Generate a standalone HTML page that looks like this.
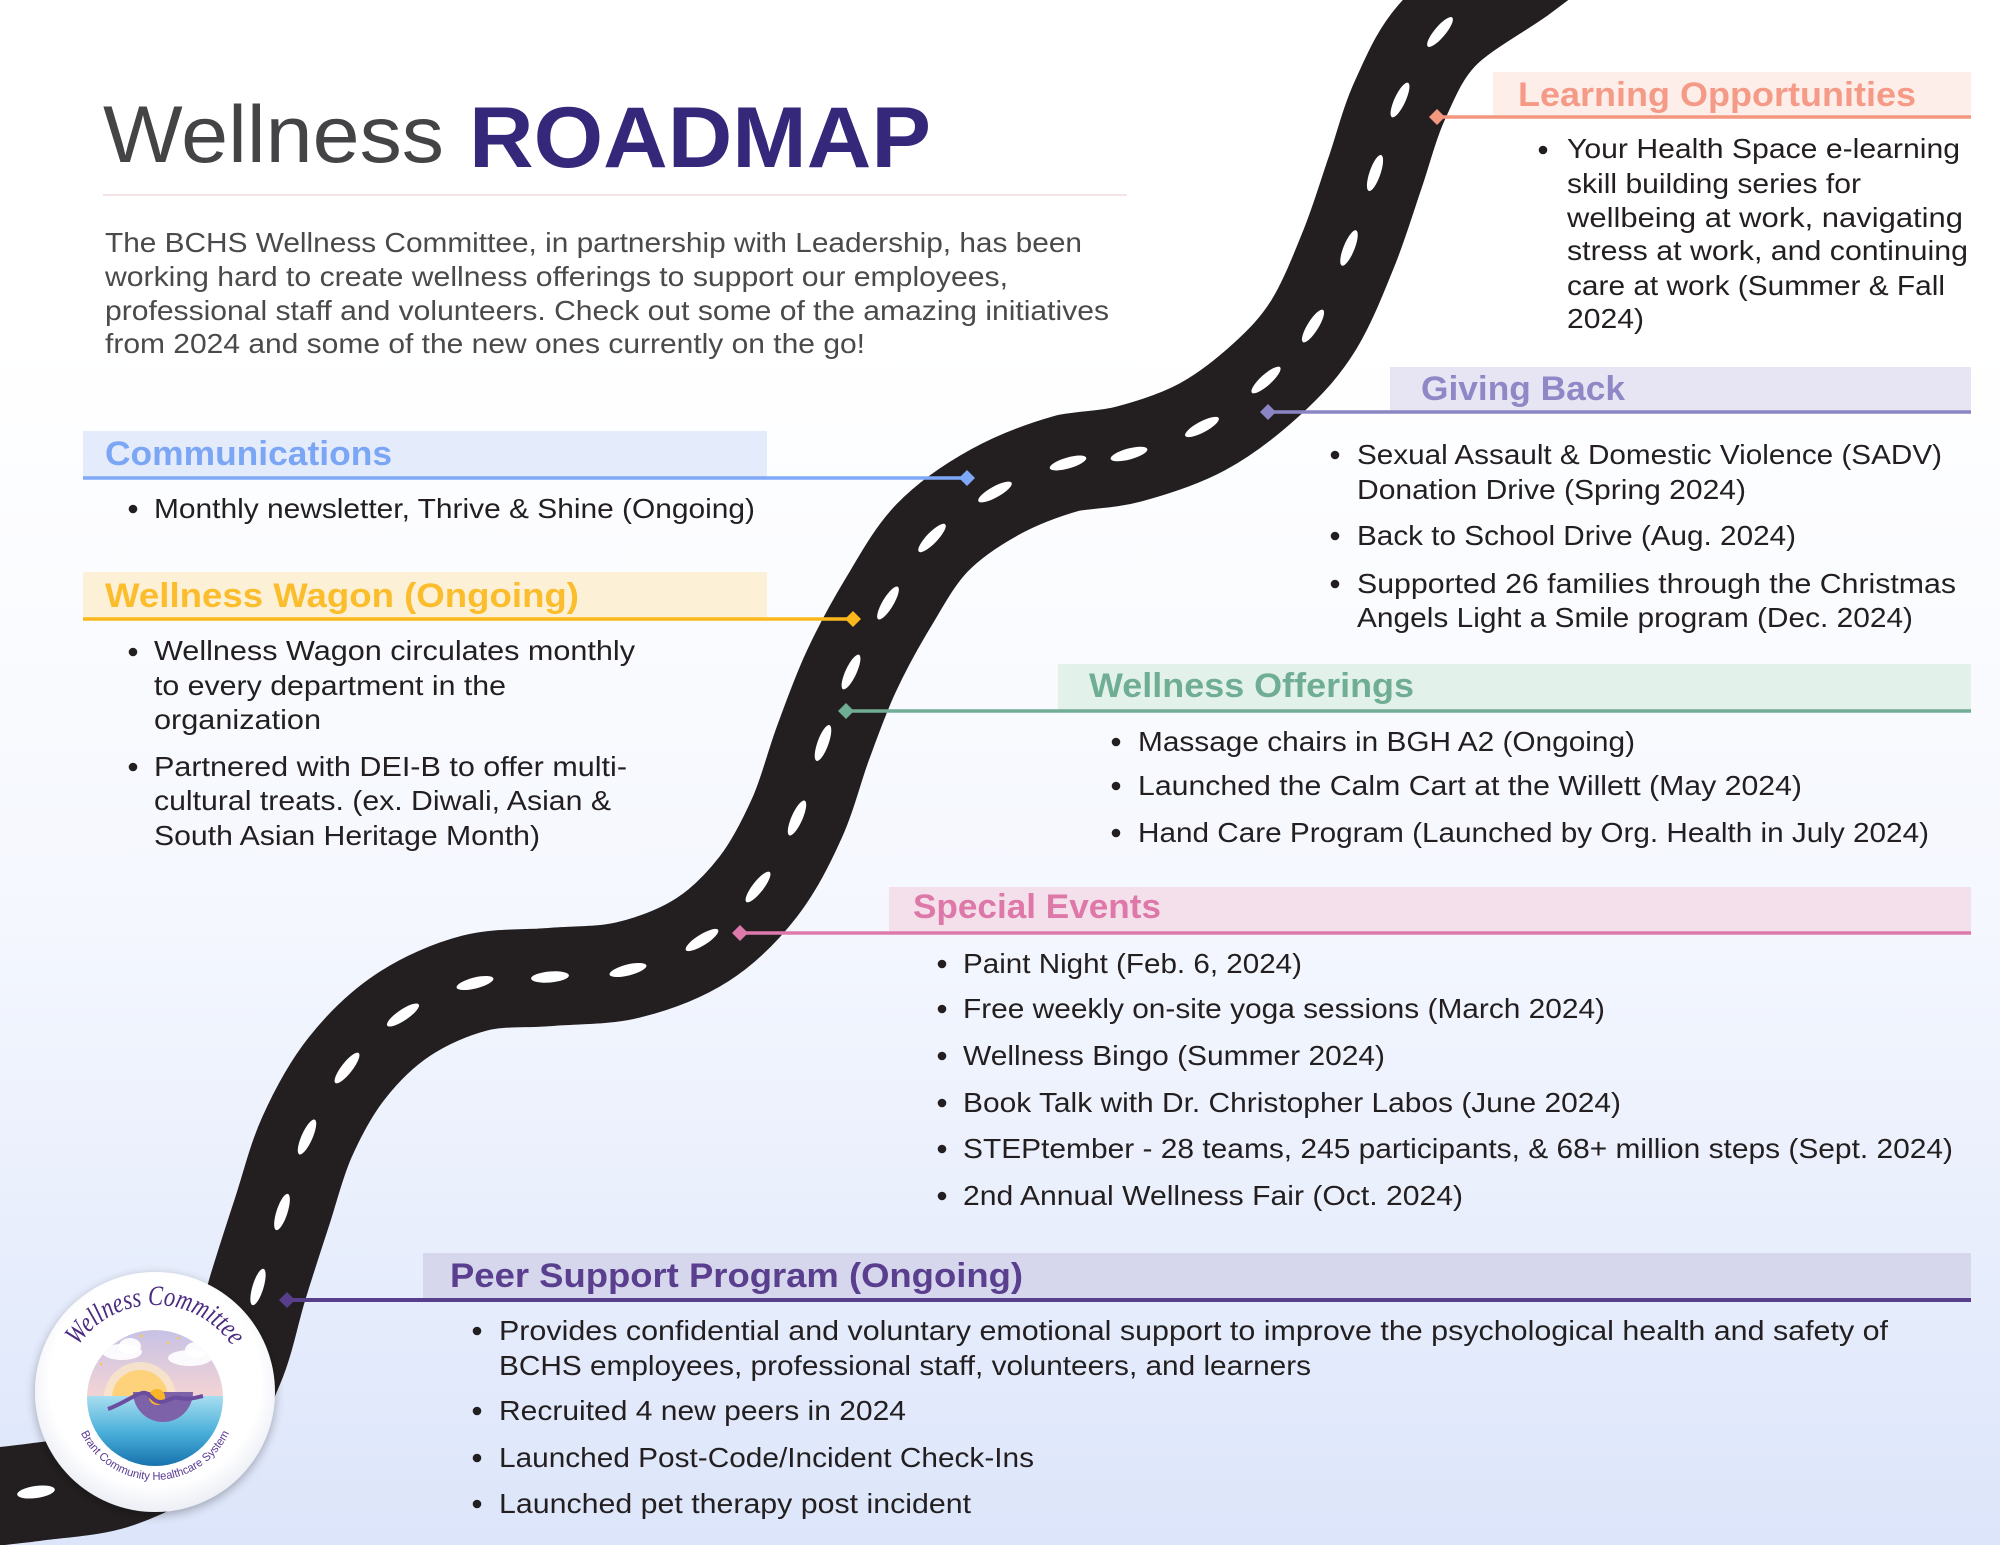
<!DOCTYPE html>
<html>
<head>
<meta charset="utf-8">
<style>
html,body{margin:0;padding:0;background:#fff;}
body{width:2000px;height:1545px;overflow:hidden;}
svg{display:block;}
.b{font-family:"Liberation Sans",sans-serif;font-size:28px;fill:#231f20;}
.h{font-family:"Liberation Sans",sans-serif;font-size:34px;font-weight:bold;}
.p{font-family:"Liberation Sans",sans-serif;font-size:27.5px;fill:#4a4a4c;}
</style>
</head>
<body>
<svg width="2000" height="1545" viewBox="0 0 2000 1545" xmlns="http://www.w3.org/2000/svg">
<defs>
  <linearGradient id="bg" x1="0" y1="0" x2="0" y2="1">
    <stop offset="0" stop-color="#ffffff"/>
    <stop offset="0.22" stop-color="#ffffff"/>
    <stop offset="0.6" stop-color="#f4f7fe"/>
    <stop offset="1" stop-color="#dce5fa"/>
  </linearGradient>
  <linearGradient id="sky" x1="0" y1="0" x2="0" y2="1">
    <stop offset="0" stop-color="#c6c1e6"/>
    <stop offset="1" stop-color="#f4d4d4"/>
  </linearGradient>
  <linearGradient id="sea" x1="0" y1="0" x2="0" y2="1">
    <stop offset="0" stop-color="#a8def0"/>
    <stop offset="0.5" stop-color="#4bb0da"/>
    <stop offset="1" stop-color="#146fab"/>
  </linearGradient>
  <radialGradient id="btn" cx="0.5" cy="0.45" r="0.55">
    <stop offset="0.8" stop-color="#ffffff"/>
    <stop offset="1" stop-color="#eceef5"/>
  </radialGradient>
  <clipPath id="oval"><circle cx="155" cy="1398" r="68"/></clipPath>
  <filter id="sh" x="-20%" y="-20%" width="140%" height="140%">
    <feGaussianBlur in="SourceAlpha" stdDeviation="5"/>
    <feOffset dx="0" dy="3"/>
    <feComponentTransfer><feFuncA type="linear" slope="0.3"/></feComponentTransfer>
    <feMerge><feMergeNode/><feMergeNode in="SourceGraphic"/></feMerge>
  </filter>
  <path id="arcT" d="M 62 1398 A 93 93 0 0 1 248 1398"/>
  <path id="arcB" d="M 73 1398 A 82 82 0 0 0 237 1398"/>
</defs>

<rect x="0" y="0" width="2000" height="1545" fill="url(#bg)"/>

<!-- Title -->
<text x="103" y="162" font-family="Liberation Sans, sans-serif" font-size="81" fill="#444446" textLength="341" lengthAdjust="spacingAndGlyphs">Wellness</text>
<text x="469" y="167" font-family="Liberation Sans, sans-serif" font-size="86" font-weight="bold" fill="#35287b" textLength="462" lengthAdjust="spacingAndGlyphs">ROADMAP</text>
<line x1="103" y1="195" x2="1127" y2="195" stroke="#f6e3e3" stroke-width="2"/>

<!-- Paragraph -->
<text class="p" x="105" y="252" textLength="977" lengthAdjust="spacingAndGlyphs">The BCHS Wellness Committee, in partnership with Leadership, has been</text>
<text class="p" x="105" y="286" textLength="903" lengthAdjust="spacingAndGlyphs">working hard to create wellness offerings to support our employees,</text>
<text class="p" x="105" y="320" textLength="1004" lengthAdjust="spacingAndGlyphs">professional staff and volunteers. Check out some of the amazing initiatives</text>
<text class="p" x="105" y="353" textLength="760" lengthAdjust="spacingAndGlyphs">from 2024 and some of the new ones currently on the go!</text>

<!-- Bands -->
<rect x="83" y="431" width="684" height="46" fill="#e4ebfb"/>
<rect x="83" y="572" width="684" height="47" fill="#fcf0d7"/>
<rect x="1493" y="72" width="478" height="45" fill="#fdeee9"/>
<rect x="1390" y="367" width="581" height="45" fill="#e7e5f4"/>
<rect x="1058" y="664" width="913" height="47" fill="#e3f1eb"/>
<rect x="889" y="887" width="1082" height="46" fill="#f4e0eb"/>
<rect x="423" y="1253" width="1548" height="47" fill="#d6d6ed"/>

<!-- Road -->
<path fill="none" stroke="#231f20" stroke-width="98" d="M1560,-55 L1520,-25 C1493,-6 1460,11.2 1440,32
C1420,52.8 1410.8,76.5 1400,100
C1389.2,123.5 1383.5,148.3 1375,173
C1366.5,197.7 1359.3,222.5 1349,248
C1338.7,273.5 1326.8,304 1313,326
C1299.2,348 1284.5,363.2 1266,380
C1247.5,396.8 1224.8,414.7 1202,427
C1179.2,439.3 1151.3,448 1129,454
C1106.7,460 1090,459 1068,463
C1045.7,469.3 1017.7,479.5 995,492
C972.3,504.5 949.8,519.5 932,538
C914.2,556.5 901.5,580.7 888,603
C874.5,625.3 861.8,648.7 851,672
C840.2,695.3 832,718.7 823,743
C814,767.3 807.8,794 797,818
C786.2,842 773.8,866.7 758,887
C742.2,907.3 723.7,926.2 702,940
C680.3,953.8 653.3,963.8 628,970
C602.7,976.2 575.5,974.8 550,977
C524.5,979.2 499.5,976.7 475,983
C450.5,989.3 424.3,1000.8 403,1015
C381.7,1029.2 363,1047.7 347,1068
C331,1088.3 317.8,1113 307,1137
C296.2,1161 290.2,1187 282,1212
C273.8,1237 265.8,1261.5 258,1287
C250.2,1312.5 245.5,1340.3 235,1365
C224.5,1389.7 214.2,1416.2 195,1435
C175.8,1453.8 146.5,1468.5 120,1478
C93.5,1487.5 62.7,1488.3 36,1492
C9.3,1495.7 -20,1498 -60,1503"/>

<!-- Road dashes -->
<g fill="#ffffff">
<ellipse cx="1440" cy="32" rx="19" ry="5.5" transform="rotate(130 1440 32)"/>
<ellipse cx="1400" cy="100" rx="19" ry="5.5" transform="rotate(115 1400 100)"/>
<ellipse cx="1375" cy="173" rx="19" ry="5.5" transform="rotate(109 1375 173)"/>
<ellipse cx="1349" cy="248" rx="19" ry="5.5" transform="rotate(112 1349 248)"/>
<ellipse cx="1313" cy="326" rx="19" ry="5.5" transform="rotate(122 1313 326)"/>
<ellipse cx="1266" cy="380" rx="19" ry="5.5" transform="rotate(138 1266 380)"/>
<ellipse cx="1202" cy="427" rx="19" ry="5.5" transform="rotate(152 1202 427)"/>
<ellipse cx="1129" cy="454" rx="19" ry="5.5" transform="rotate(165 1129 454)"/>
<ellipse cx="1068" cy="463" rx="19" ry="5.5" transform="rotate(164 1068 463)"/>
<ellipse cx="995" cy="492" rx="19" ry="5.5" transform="rotate(151 995 492)"/>
<ellipse cx="932" cy="538" rx="19" ry="5.5" transform="rotate(134 932 538)"/>
<ellipse cx="888" cy="603" rx="19" ry="5.5" transform="rotate(121 888 603)"/>
<ellipse cx="851" cy="672" rx="19" ry="5.5" transform="rotate(115 851 672)"/>
<ellipse cx="823" cy="743" rx="19" ry="5.5" transform="rotate(110 823 743)"/>
<ellipse cx="797" cy="818" rx="19" ry="5.5" transform="rotate(114 797 818)"/>
<ellipse cx="758" cy="887" rx="19" ry="5.5" transform="rotate(128 758 887)"/>
<ellipse cx="702" cy="940" rx="19" ry="5.5" transform="rotate(148 702 940)"/>
<ellipse cx="628" cy="970" rx="19" ry="5.5" transform="rotate(166 628 970)"/>
<ellipse cx="550" cy="977" rx="19" ry="5.5" transform="rotate(175 550 977)"/>
<ellipse cx="475" cy="983" rx="19" ry="5.5" transform="rotate(166 475 983)"/>
<ellipse cx="403" cy="1015" rx="19" ry="5.5" transform="rotate(146 403 1015)"/>
<ellipse cx="347" cy="1068" rx="19" ry="5.5" transform="rotate(128 347 1068)"/>
<ellipse cx="307" cy="1137" rx="19" ry="5.5" transform="rotate(114 307 1137)"/>
<ellipse cx="282" cy="1212" rx="19" ry="5.5" transform="rotate(108 282 1212)"/>
<ellipse cx="258" cy="1287" rx="19" ry="5.5" transform="rotate(107 258 1287)"/>
<ellipse cx="36" cy="1492" rx="19" ry="6" transform="rotate(172 36 1492)"/>
</g>

<!-- Connector lines and diamonds -->
<g stroke-width="3.5">
<line x1="83" y1="478" x2="967" y2="478" stroke="#7ea8f8"/>
<line x1="83" y1="619" x2="853" y2="619" stroke="#fbb81c"/>
<line x1="1437" y1="117" x2="1971" y2="117" stroke="#f4977f"/>
<line x1="1268" y1="412" x2="1971" y2="412" stroke="#8b85c3"/>
<line x1="846" y1="711" x2="1971" y2="711" stroke="#71ad95"/>
<line x1="740" y1="933" x2="1971" y2="933" stroke="#dd7aab"/>
<line x1="287" y1="1300" x2="1971" y2="1300" stroke="#583f8c" stroke-width="4"/>
</g>
<polygon points="959,478 967,470 975,478 967,486" fill="#7ea8f8"/>
<polygon points="845,619 853,611 861,619 853,627" fill="#fbb81c"/>
<polygon points="1429,117 1437,109 1445,117 1437,125" fill="#f4977f"/>
<polygon points="1260,412 1268,404 1276,412 1268,420" fill="#8b85c3"/>
<polygon points="838,711 846,703 854,711 846,719" fill="#71ad95"/>
<polygon points="732,933 740,925 748,933 740,941" fill="#dd7aab"/>
<polygon points="279,1300 287,1292 295,1300 287,1308" fill="#583f8c"/>

<!-- Headers -->
<text class="h" x="105" y="465" fill="#7ba5f5" textLength="287" lengthAdjust="spacingAndGlyphs">Communications</text>
<text class="h" x="105" y="607" fill="#fbbd2c" textLength="474" lengthAdjust="spacingAndGlyphs">Wellness Wagon (Ongoing)</text>
<text class="h" x="1518" y="106" fill="#f59a87" textLength="398" lengthAdjust="spacingAndGlyphs">Learning Opportunities</text>
<text class="h" x="1421" y="400" fill="#8e88c6" textLength="204" lengthAdjust="spacingAndGlyphs">Giving Back</text>
<text class="h" x="1089" y="697" fill="#6fae94" textLength="325" lengthAdjust="spacingAndGlyphs">Wellness Offerings</text>
<text class="h" x="913" y="918" fill="#dd78a9" textLength="248" lengthAdjust="spacingAndGlyphs">Special Events</text>
<text class="h" x="450" y="1287" fill="#5a3f8e" textLength="573" lengthAdjust="spacingAndGlyphs">Peer Support Program (Ongoing)</text>

<!-- Bullets -->
<g fill="#231f20">
<circle cx="133" cy="509" r="4.3"/>
<circle cx="133" cy="652" r="4.3"/>
<circle cx="133" cy="767" r="4.3"/>
<circle cx="1543" cy="150" r="4.3"/>
<circle cx="1335" cy="455" r="4.3"/>
<circle cx="1335" cy="536" r="4.3"/>
<circle cx="1335" cy="584" r="4.3"/>
<circle cx="1116" cy="742" r="4.3"/>
<circle cx="1116" cy="786" r="4.3"/>
<circle cx="1116" cy="833" r="4.3"/>
<circle cx="942" cy="964" r="4.3"/>
<circle cx="942" cy="1009" r="4.3"/>
<circle cx="942" cy="1056" r="4.3"/>
<circle cx="942" cy="1103" r="4.3"/>
<circle cx="942" cy="1149" r="4.3"/>
<circle cx="942" cy="1196" r="4.3"/>
<circle cx="477" cy="1331" r="4.3"/>
<circle cx="477" cy="1411" r="4.3"/>
<circle cx="477" cy="1458" r="4.3"/>
<circle cx="477" cy="1504" r="4.3"/>
</g>

<!-- Communications -->
<text class="b" x="154" y="518" textLength="601" lengthAdjust="spacingAndGlyphs">Monthly newsletter, Thrive &amp; Shine (Ongoing)</text>

<!-- Wellness Wagon -->
<text class="b" x="154" y="660" textLength="481" lengthAdjust="spacingAndGlyphs">Wellness Wagon circulates monthly</text>
<text class="b" x="154" y="695" textLength="352" lengthAdjust="spacingAndGlyphs">to every department in the</text>
<text class="b" x="154" y="729" textLength="167" lengthAdjust="spacingAndGlyphs">organization</text>
<text class="b" x="154" y="776" textLength="473" lengthAdjust="spacingAndGlyphs">Partnered with DEI-B to offer multi-</text>
<text class="b" x="154" y="810" textLength="457" lengthAdjust="spacingAndGlyphs">cultural treats. (ex. Diwali, Asian &amp;</text>
<text class="b" x="154" y="845" textLength="386" lengthAdjust="spacingAndGlyphs">South Asian Heritage Month)</text>

<!-- Learning -->
<text class="b" x="1567" y="158" textLength="393" lengthAdjust="spacingAndGlyphs">Your Health Space e-learning</text>
<text class="b" x="1567" y="193" textLength="294" lengthAdjust="spacingAndGlyphs">skill building series for</text>
<text class="b" x="1567" y="227" textLength="396" lengthAdjust="spacingAndGlyphs">wellbeing at work, navigating</text>
<text class="b" x="1567" y="260" textLength="401" lengthAdjust="spacingAndGlyphs">stress at work, and continuing</text>
<text class="b" x="1567" y="295" textLength="378" lengthAdjust="spacingAndGlyphs">care at work (Summer &amp; Fall</text>
<text class="b" x="1567" y="328" textLength="77" lengthAdjust="spacingAndGlyphs">2024)</text>

<!-- Giving Back -->
<text class="b" x="1357" y="464" textLength="585" lengthAdjust="spacingAndGlyphs">Sexual Assault &amp; Domestic Violence (SADV)</text>
<text class="b" x="1357" y="499" textLength="389" lengthAdjust="spacingAndGlyphs">Donation Drive (Spring 2024)</text>
<text class="b" x="1357" y="545" textLength="439" lengthAdjust="spacingAndGlyphs">Back to School Drive (Aug. 2024)</text>
<text class="b" x="1357" y="593" textLength="599" lengthAdjust="spacingAndGlyphs">Supported 26 families through the Christmas</text>
<text class="b" x="1357" y="627" textLength="556" lengthAdjust="spacingAndGlyphs">Angels Light a Smile program (Dec. 2024)</text>

<!-- Wellness Offerings -->
<text class="b" x="1138" y="751" textLength="497" lengthAdjust="spacingAndGlyphs">Massage chairs in BGH A2 (Ongoing)</text>
<text class="b" x="1138" y="795" textLength="664" lengthAdjust="spacingAndGlyphs">Launched the Calm Cart at the Willett (May 2024)</text>
<text class="b" x="1138" y="842" textLength="791" lengthAdjust="spacingAndGlyphs">Hand Care Program (Launched by Org. Health in July 2024)</text>

<!-- Special Events -->
<text class="b" x="963" y="973" textLength="339" lengthAdjust="spacingAndGlyphs">Paint Night (Feb. 6, 2024)</text>
<text class="b" x="963" y="1018" textLength="642" lengthAdjust="spacingAndGlyphs">Free weekly on-site yoga sessions (March 2024)</text>
<text class="b" x="963" y="1065" textLength="422" lengthAdjust="spacingAndGlyphs">Wellness Bingo (Summer 2024)</text>
<text class="b" x="963" y="1112" textLength="658" lengthAdjust="spacingAndGlyphs">Book Talk with Dr. Christopher Labos (June 2024)</text>
<text class="b" x="963" y="1158" textLength="990" lengthAdjust="spacingAndGlyphs">STEPtember - 28 teams, 245 participants, &amp; 68+ million steps (Sept. 2024)</text>
<text class="b" x="963" y="1205" textLength="500" lengthAdjust="spacingAndGlyphs">2nd Annual Wellness Fair (Oct. 2024)</text>

<!-- Peer Support -->
<text class="b" x="499" y="1340" textLength="1389" lengthAdjust="spacingAndGlyphs">Provides confidential and voluntary emotional support to improve the psychological health and safety of</text>
<text class="b" x="499" y="1375" textLength="812" lengthAdjust="spacingAndGlyphs">BCHS employees, professional staff, volunteers, and learners</text>
<text class="b" x="499" y="1420" textLength="407" lengthAdjust="spacingAndGlyphs">Recruited 4 new peers in 2024</text>
<text class="b" x="499" y="1467" textLength="535" lengthAdjust="spacingAndGlyphs">Launched Post-Code/Incident Check-Ins</text>
<text class="b" x="499" y="1513" textLength="472" lengthAdjust="spacingAndGlyphs">Launched pet therapy post incident</text>

<!-- Logo -->
<circle cx="155" cy="1392" r="120" fill="url(#btn)" filter="url(#sh)"/>
<g clip-path="url(#oval)">
  <rect x="85" y="1328" width="140" height="70" fill="url(#sky)"/>
  <circle cx="140" cy="1398" r="36" fill="#fde9c4" opacity="0.7"/>
  <circle cx="140" cy="1398" r="28" fill="#fdd27a"/>
  <ellipse cx="122" cy="1352" rx="20" ry="8" fill="#ffffff" opacity="0.9"/>
  <ellipse cx="130" cy="1346" rx="11" ry="8" fill="#ffffff" opacity="0.9"/>
  <ellipse cx="190" cy="1358" rx="22" ry="8" fill="#ffffff" opacity="0.9"/>
  <ellipse cx="196" cy="1350" rx="11" ry="8" fill="#ffffff" opacity="0.9"/>
  <circle cx="141" cy="1336" r="1.5" fill="#f7c94a"/>
  <circle cx="168" cy="1343" r="1.3" fill="#f7c94a"/>
  <circle cx="178" cy="1338" r="1.2" fill="#f7c94a"/>
  <circle cx="101" cy="1364" r="1.2" fill="#f7c94a"/>
  <rect x="85" y="1396" width="140" height="72" fill="url(#sea)"/>
  <path d="M133,1392 A30,30 0 0 0 193,1392 Z" fill="#7d62aa"/>
  <circle cx="157" cy="1397" r="8" fill="#f9b428"/>
  <path d="M108,1409 C122,1404 132,1396 142,1393 C150,1391 152,1402 160,1402 C168,1402 172,1396 180,1398 C188,1400 194,1398 203,1396" stroke="#6b4c9e" stroke-width="4" fill="none"/>
</g>
<text font-family="Liberation Serif, serif" font-style="italic" font-size="28" fill="#4b2a80"><textPath href="#arcT" startOffset="50%" text-anchor="middle" textLength="182" lengthAdjust="spacingAndGlyphs">Wellness Committee</textPath></text>
<text font-family="Liberation Sans, sans-serif" font-size="11.5" fill="#5b3b92"><textPath href="#arcB" startOffset="50%" text-anchor="middle" textLength="185" lengthAdjust="spacingAndGlyphs">Brant Community Healthcare System</textPath></text>
</svg>
</body>
</html>
